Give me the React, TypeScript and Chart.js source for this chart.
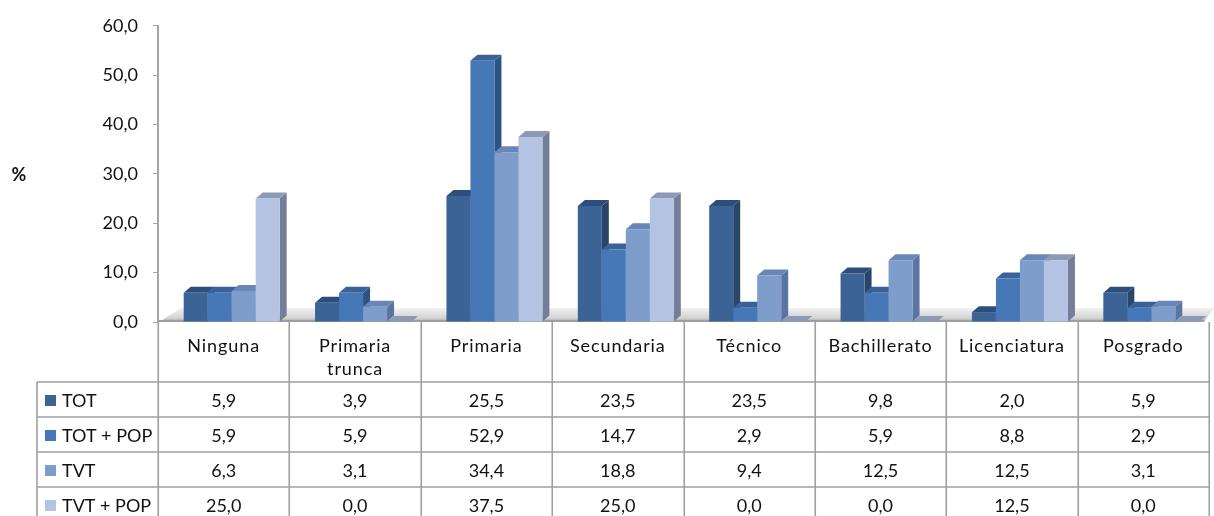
import React, { useEffect, useRef } from 'react';
import { Chart, registerables } from 'chart.js';

Chart.register(...registerables);

const categories: string[][] = [
  ['Ninguna'],
  ['Primaria', 'trunca'],
  ['Primaria'],
  ['Secundaria'],
  ['Técnico'],
  ['Bachillerato'],
  ['Licenciatura'],
  ['Posgrado'],
];
const seriesNames = ['TOT', 'TOT + POP', 'TVT', 'TVT + POP'];
const tot = [5.9, 3.9, 25.5, 23.5, 23.5, 9.8, 2.0, 5.9];
const totPop = [5.9, 5.9, 52.9, 14.7, 2.9, 5.9, 8.8, 2.9];
const tvt = [6.3, 3.1, 34.4, 18.8, 9.4, 12.5, 12.5, 3.1];
const tvtPop = [25.0, 0.0, 37.5, 25.0, 0.0, 0.0, 12.5, 0.0];
const yMin = 0;
const yMax = 60;
const yStep = 10;
const axisTitle = '%';

const frontColors = ['#3b6395', '#4677b6', '#7f9dcb', '#b4c3e1'];
const topColors = ['#2d4e7d', '#386299', '#6886b8', '#8d9ab6'];
const sideColors = ['#294669', '#2e5286', '#5a75a3', '#737f98'];

const FONT = 'Lato, "Open Sans", sans-serif';
const DX = 7;
const DY = 6;
const SHIFT = 8;

const fmt = (v: number) => v.toFixed(1).replace('.', ',');

const bars3d = {
  id: 'bars3d',
  beforeDatasetsDraw(chart: any) {
    const ctx = chart.ctx as CanvasRenderingContext2D;
    const { left, right } = chart.chartArea;
    const base = chart.scales.y.getPixelForValue(0);
    // floor
    ctx.save();
    const g = ctx.createLinearGradient(0, base - 14, 0, base);
    g.addColorStop(0, '#f2f2f2');
    g.addColorStop(0.7, '#d4d4d4');
    g.addColorStop(1, '#a8a8a8');
    ctx.fillStyle = g;
    ctx.beginPath();
    ctx.moveTo(left + 1, base);
    ctx.lineTo(left + 23, base - 14);
    ctx.lineTo(right + 5, base - 14);
    ctx.lineTo(right - 5, base);
    ctx.closePath();
    ctx.fill();
    ctx.fillStyle = '#9e9e9e';
    ctx.fillRect(left + 1, base - 2, right - left - 6, 2);
    ctx.restore();

    ctx.save();
    ctx.translate(SHIFT, 0);
    const n = chart.data.labels.length;
    for (let i = 0; i < n; i++) {
      for (let d = 0; d < chart.data.datasets.length; d++) {
        const el = chart.getDatasetMeta(d).data[i];
        const { x, y, base: b, width } = el.getProps(['x', 'y', 'base', 'width'], true);
        const l = x - width / 2;
        const r = x + width / 2;
        ctx.fillStyle = sideColors[d];
        ctx.beginPath();
        ctx.moveTo(r, y);
        ctx.lineTo(r + DX, y - DY);
        ctx.lineTo(r + DX, b - DY);
        ctx.lineTo(r, b);
        ctx.closePath();
        ctx.fill();
        ctx.fillStyle = topColors[d];
        ctx.beginPath();
        ctx.moveTo(l, y);
        ctx.lineTo(l + DX, y - DY);
        ctx.lineTo(r + DX, y - DY);
        ctx.lineTo(r, y);
        ctx.closePath();
        ctx.fill();
      }
    }
  },
  afterDatasetsDraw(chart: any) {
    chart.ctx.restore();
  },
  afterDraw(chart: any) {
    const ctx = chart.ctx as CanvasRenderingContext2D;
    const { left, right } = chart.chartArea;
    const base = chart.scales.y.getPixelForValue(0);
    const n = chart.data.labels.length;
    const colW = (right - left) / n;
    const headerBottom = 382;
    const rowH = 35;
    const tableLeft = 37;
    const bottom = chart.height;
    ctx.save();
    ctx.strokeStyle = '#a0a0a0';
    ctx.lineWidth = 1.6;
    ctx.beginPath();
    for (let k = 0; k <= n; k++) {
      const x = Math.round(left + k * colW) + 0.25;
      ctx.moveTo(x, base);
      ctx.lineTo(x, bottom);
    }
    ctx.moveTo(tableLeft, headerBottom);
    ctx.lineTo(tableLeft, bottom);
    for (let j = 0; j <= seriesNames.length; j++) {
      const y = headerBottom + j * rowH;
      ctx.moveTo(tableLeft, y);
      ctx.lineTo(right, y);
    }
    ctx.stroke();

    ctx.fillStyle = '#111';
    ctx.font = `18px ${FONT}`;
    ctx.textAlign = 'center';
    ctx.textBaseline = 'alphabetic';
    const xs = chart.scales.x;
    (ctx as any).letterSpacing = '0.9px';
    for (let i = 0; i < n; i++) {
      const cx = xs.getPixelForValue(i);
      const lines = categories[i];
      lines.forEach((t, li) => ctx.fillText(t, cx, 352 + li * 23));
    }
    (ctx as any).letterSpacing = '0px';
    const datasets = chart.data.datasets;
    for (let d = 0; d < datasets.length; d++) {
      const top = headerBottom + d * rowH;
      ctx.fillStyle = frontColors[d];
      ctx.fillRect(45, top + 13, 11, 11);
      ctx.fillStyle = '#111';
      ctx.textAlign = 'left';
      ctx.fillText(seriesNames[d], 62, top + 25);
      ctx.textAlign = 'center';
      for (let i = 0; i < n; i++) {
        ctx.fillText(fmt(datasets[d].data[i]), xs.getPixelForValue(i), top + 25);
      }
    }
    ctx.font = `bold 18px ${FONT}`;
    ctx.textAlign = 'center';
    ctx.textBaseline = 'middle';
    ctx.fillText(axisTitle, 19, chart.scales.y.getPixelForValue(30) + 1);
    ctx.restore();
  },
};

export default function App() {
  const ref = useRef<HTMLCanvasElement>(null);
  useEffect(() => {
    if (!ref.current) return;
    const series = [tot, totPop, tvt, tvtPop];
    const chart = new Chart(ref.current, {
      type: 'bar',
      data: {
        labels: categories,
        datasets: series.map((s, d) => ({
          label: seriesNames[d],
          data: s,
          backgroundColor: frontColors[d],
          borderWidth: 0,
          clip: false as any,
        })),
      },
      options: {
        animation: false,
        responsive: false,
        devicePixelRatio: 1,
        layout: { padding: { left: 0, right: 5, top: 21, bottom: 194 } },
        datasets: { bar: { categoryPercentage: 96 / 131.375, barPercentage: 1 } },
        plugins: { legend: { display: false }, tooltip: { enabled: false }, title: { display: false } },
        scales: {
          x: { display: false, offset: true, grid: { display: false } },
          y: {
            min: yMin,
            max: yMax,
            afterFit: (scale: any) => {
              scale.width = 158;
            },
            border: { display: true, color: '#a6a6a6', width: 2 },
            grid: { drawOnChartArea: false, drawTicks: true, tickLength: 5, color: '#a6a6a6' },
            ticks: {
              stepSize: yStep,
              padding: 15,
              color: '#111',
              font: { family: FONT, size: 18 },
              callback: (v: any) => fmt(Number(v)),
            },
          },
        },
      },
      plugins: [bars3d],
    });
    return () => chart.destroy();
  }, []);
  return (
    <div style={{ position: 'absolute', left: 0, top: 0, width: 1214, height: 516, background: '#fff' }}>
      <canvas ref={ref} width={1214} height={516} />
    </div>
  );
}
